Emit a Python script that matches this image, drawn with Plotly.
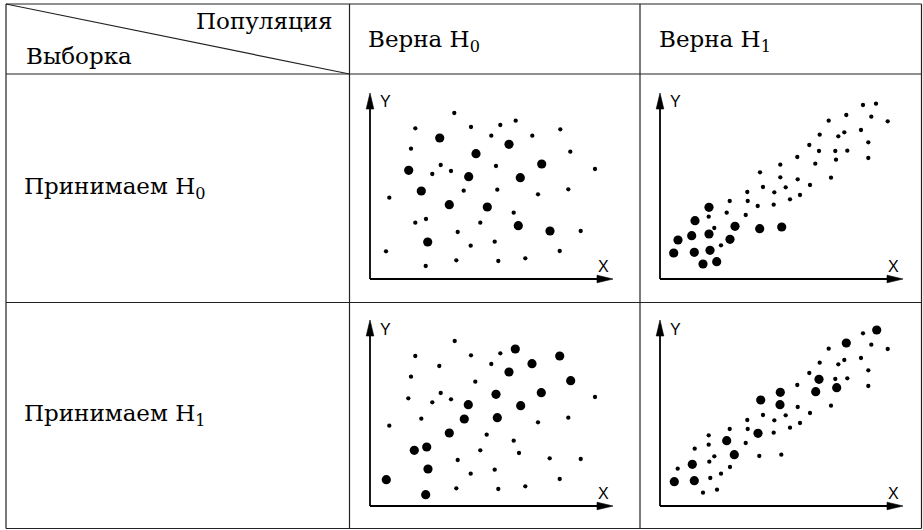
import plotly.graph_objects as go

W, H = 923, 530

# row / column captions
row_labels = ['Принимаем H<sub>0</sub>', 'Принимаем H<sub>1</sub>']
col_labels = ['Верна H<sub>0</sub>', 'Верна H<sub>1</sub>']
corner_top = 'Популяция'
corner_bottom = 'Выборка'

# panel 1: sample accepts H0, population H0 true
p1_small_x = [84.3, 45.3, 101, 130.3, 145.7, 190.3, 121.3, 162.3, 41, 200.3, 70.7, 62.3, 81, 126, 225, 19.3, 93.7,
              127.3, 168, 198.3, 56, 45.3, 110.3, 143.7, 87.7, 210.7, 100.7, 124.7, 16, 189.7, 55.7, 86.3, 128.3, 155.3]
p1_small_y = [166, 150.7, 152, 154, 158.3, 149.7, 143.3, 143.3, 130.3, 127.3, 114, 105, 108, 113, 110, 81.3, 88.3,
              89.3, 84.7, 89.7, 60, 56.3, 56.3, 66.3, 47, 48, 33.3, 37.3, 27.7, 28, 13, 18.7, 18, 20.7]
p1_big_x = [69.7, 139, 106, 171.7, 38.7, 98.7, 150.3, 51.3, 79.3, 117.3, 148.3, 180, 57.7]
p1_big_y = [141, 134.7, 125.3, 115, 108.7, 102.3, 101.3, 88, 74.3, 72, 53.3, 48, 37]

# panel 2: sample accepts H0, population H1 true
p2_small_x = [203, 216, 186.3, 211.3, 227.7, 168.7, 201, 184.3, 178.3, 159.7, 208.3, 149.3, 159, 175.3, 187.3,
              208.3, 176, 137.3, 155.3, 120.3, 100, 120.3, 137.7, 171, 103, 125.7, 150, 87.3, 114.3, 140, 130,
              87.7, 69.7, 97.7, 113.7, 66.7, 85.7, 48.7, 54.3, 61]
p2_small_y = [174, 175.3, 164, 162.3, 157.7, 158.3, 149, 146.7, 142.7, 144.3, 136.7, 134, 128, 128, 128.3,
              121, 119.3, 122, 115.3, 114.3, 106.7, 101.7, 99.7, 101.3, 92, 91.7, 94, 87, 86.7, 84, 79.7,
              78, 78, 73, 74.3, 66.3, 64, 62.3, 51, 33.7]
p2_big_x = [49, 35, 75, 99.7, 121.7, 18, 31.7, 49, 70, 13.7, 34.3, 50, 43, 56.7]
p2_big_y = [71.7, 58.3, 52.7, 50.3, 52, 39, 43.3, 45, 39.7, 26, 26.7, 28.7, 15, 17.3]

# panel 3: sample accepts H1, population H0 true
p3_small_x = [84.7, 45.3, 101, 130.3, 121.3, 69.3, 41, 105.3, 38.3, 70.7, 62.3, 81, 225, 51.3, 19.3, 168, 198.3,
              116.7, 143.7, 110.3, 149, 87.7, 179.7, 210.7, 100.7, 124.7, 189.7, 86.3, 128.3, 155.3]
p3_small_y = [165, 150, 150.7, 152.7, 142, 140, 129.3, 124.3, 107.7, 113, 103.7, 106.7, 109, 87.3, 80.3, 83.7, 88.3,
              71.3, 65.3, 55.7, 53, 46, 47.7, 47, 32.3, 36.3, 27, 17.7, 17, 19.7]
p3_big_x = [145.3, 189.7, 162, 139, 200.7, 126, 171.3, 98.3, 150.7, 94.3, 127.3, 79.3, 44.3, 56.7, 58, 16.3, 55.7]
p3_big_y = [157, 150, 142.3, 134, 125.3, 111.7, 113.3, 101.3, 100.3, 87, 88.3, 73, 55.7, 59, 37, 26.3, 11.3]

# panel 4: sample accepts H1, population H1 true
p4_small_x = [203, 211.3, 227.7, 168.7, 201, 184.3, 178.3, 159.7, 208.3, 149.3, 175.3, 187.3, 208.3, 137.3, 171,
              137.7, 103, 125.7, 150, 87.3, 114.3, 140, 130, 87.7, 69.7, 113.7, 48.7, 48.7, 85.7, 34.7,
              54.3, 49.3, 99.3, 121.3, 17.7, 70, 61, 50.3, 43, 57]
p4_small_y = [172.7, 161.3, 157, 157.3, 148, 146, 141.7, 143.3, 135.7, 133, 127, 127.7, 120, 121, 100.3,
              99, 91, 90.7, 93, 86, 85.7, 83, 78.3, 77, 77, 73.3, 70.7, 61.3, 63, 57.3,
              49.7, 44.3, 50, 51.3, 37.3, 39, 32.3, 28, 13.3, 16.3]
p4_big_x = [216.7, 186.3, 159, 176.7, 155.7, 120.3, 100.7, 120, 98, 66.7, 74.3, 32.3, 14.3, 34.3]
p4_big_y = [176, 163, 126.7, 118.3, 114.3, 113.7, 106, 101.3, 72.7, 65.3, 51.3, 41.7, 24.3, 25.3]

panels = [(p1_small_x, p1_small_y, p1_big_x, p1_big_y),
          (p2_small_x, p2_small_y, p2_big_x, p2_big_y),
          (p3_small_x, p3_small_y, p3_big_x, p3_big_y),
          (p4_small_x, p4_small_y, p4_big_x, p4_big_y)]

# pixel origins of the little X/Y frames
origins = [(370, 279), (660, 279), (370, 506), (660, 506)]
AX_W, AX_H = 243, 186
PAD = 8  # room round the frame so arrow heads aren't clipped


def px(x):
    return x / W


def py(y):
    return 1 - y / H


fig = go.Figure()
layout = dict(width=W, height=H, margin=dict(l=0, r=0, t=0, b=0), showlegend=False,
              paper_bgcolor='white', plot_bgcolor='rgba(0,0,0,0)')
shapes = []
annotations = []

for i, (sx, sy, bx, by) in enumerate(panels):
    n = '' if i == 0 else str(i + 1)
    xa, ya = 'x' + n, 'y' + n
    fig.add_trace(go.Scatter(x=sx, y=sy, mode='markers', xaxis=xa, yaxis=ya,
                             marker=dict(size=4.3, color='black', line_width=0), hoverinfo='skip'))
    fig.add_trace(go.Scatter(x=bx, y=by, mode='markers', xaxis=xa, yaxis=ya,
                             marker=dict(size=9.2, color='black', line_width=0), hoverinfo='skip'))
    ox, oy = origins[i]
    layout['xaxis' + n] = dict(domain=[px(ox - PAD), px(ox + AX_W + PAD)], range=[-PAD, AX_W + PAD],
                               visible=False, anchor=ya, fixedrange=True)
    layout['yaxis' + n] = dict(domain=[py(oy + PAD), py(oy - AX_H - PAD)], range=[-PAD, AX_H + PAD],
                               visible=False, anchor=xa, fixedrange=True)
    # axes with arrow heads
    shapes.append(dict(type='line', xref=xa, yref=ya, x0=0, y0=0, x1=0, y1=AX_H - 12,
                       line=dict(color='black', width=1.8)))
    shapes.append(dict(type='line', xref=xa, yref=ya, x0=0, y0=0, x1=AX_W - 12, y1=0,
                       line=dict(color='black', width=1.8)))
    shapes.append(dict(type='path', xref=xa, yref=ya,
                       path=f'M -3.8,{AX_H - 16} L 0,{AX_H} L 3.8,{AX_H - 16} Z',
                       fillcolor='black', line=dict(color='black', width=0.6)))
    shapes.append(dict(type='path', xref=xa, yref=ya,
                       path=f'M {AX_W - 16},-3.8 L {AX_W},0 L {AX_W - 16},3.8 Z',
                       fillcolor='black', line=dict(color='black', width=0.6)))
    annotations.append(dict(xref=xa, yref=ya, x=15, y=AX_H - 9, text='Y', showarrow=False,
                            font=dict(family='Liberation Sans', size=16, color='black')))
    annotations.append(dict(xref=xa, yref=ya, x=AX_W - 10, y=13, text='X', showarrow=False,
                            font=dict(family='Liberation Sans', size=16, color='black')))

# table grid
grid = dict(color='#222222', width=1.2)
L, R, T, B = 6, 921.5, 4, 528.5
hlines = [T, 74, 302.5, B]
vlines = [L, 349.5, 640, R]
for y in hlines:
    shapes.append(dict(type='line', xref='paper', yref='paper', x0=px(L), x1=px(R), y0=py(y), y1=py(y), line=grid))
for x in vlines:
    shapes.append(dict(type='line', xref='paper', yref='paper', x0=px(x), x1=px(x), y0=py(T), y1=py(B), line=grid))
shapes.append(dict(type='line', xref='paper', yref='paper', x0=px(L), y0=py(T), x1=px(349.5), y1=py(74), line=grid))

serif = dict(family='DejaVu Serif', size=23, color='black')
annotations.append(dict(xref='paper', yref='paper', x=px(335), y=py(21), xanchor='right', yanchor='middle',
                        text=corner_top, showarrow=False, font=serif))
annotations.append(dict(xref='paper', yref='paper', x=px(24), y=py(56), xanchor='left', yanchor='middle',
                        text=corner_bottom, showarrow=False, font=serif))
for lab, x0 in zip(col_labels, [366, 657]):
    annotations.append(dict(xref='paper', yref='paper', x=px(x0), y=py(41), xanchor='left', yanchor='middle',
                            text=lab, showarrow=False, font=serif))
for lab, y0 in zip(row_labels, [188, 415]):
    annotations.append(dict(xref='paper', yref='paper', x=px(22), y=py(y0), xanchor='left', yanchor='middle',
                            text=lab, showarrow=False, font=serif))

layout['shapes'] = shapes
layout['annotations'] = annotations
fig.update_layout(**layout)
# page body has a default 8px margin, drop it so the table starts at the window corner
fig.write_html('out.html', config={'displayModeBar': False},
               post_script="document.body.style.margin='0px';")
